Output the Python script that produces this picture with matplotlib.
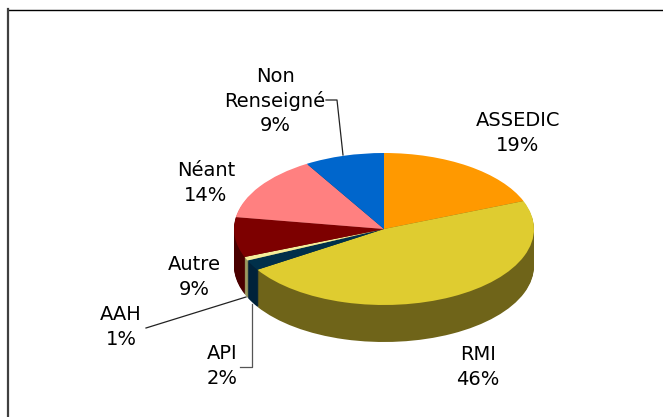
import matplotlib
matplotlib.use('Agg')
import matplotlib.pyplot as plt

labels = ['ASSEDIC', 'RMI', 'API', 'AAH', 'Autre', 'Néant', 'Non\nRenseigné']
# printed percentages, and slice sizes as measured on the picture
percents = [19, 46, 2, 1, 9, 14, 9]
values = [19.0, 47.0, 2.2, 0.8, 8.5, 13.9, 8.6]

top_colors = ['#ff9900', '#dfcc30', '#00304a', '#f5ee9a', '#7d0000', '#ff8080', '#0066cc']
side_colors = ['#7f4d00', '#6f6419', '#00223a', '#9c9a60', '#4a0000', '#804040', '#003366']

W, H = 663, 417
cx, cy, rx, ry = 384, 229, 150, 76
depth = 37

fig = plt.figure(figsize=(W / 100, H / 100), dpi=100)

# pie axes: one unit is the ellipse radius, so the pie gets squashed
ax_pie = fig.add_axes([0, 0, 1, 1])
for d in range(depth, 0, -1):
    ax_pie.pie(values, colors=side_colors, startangle=90, counterclock=False,
               center=(0, -d / ry), wedgeprops=dict(linewidth=0))
ax_pie.pie(values, colors=top_colors, startangle=90, counterclock=False,
           center=(0, 0), wedgeprops=dict(linewidth=0))
ax_pie.set_aspect('auto')
ax_pie.set_xlim(-cx / rx, (W - cx) / rx)
ax_pie.set_ylim((cy - H) / ry, cy / ry)
ax_pie.axis('off')

# overlay in pixels for the frame, labels and leader lines
ax = fig.add_axes([0, 0, 1, 1])
ax.set_xlim(0, W)
ax.set_ylim(H, 0)
ax.axis('off')
ax.patch.set_alpha(0)

ax.plot([8, W], [9.5, 9.5], color='black', lw=1)
ax.plot([8, 8], [9, H], color='#404040', lw=1.6)

label_pos = [(518, 133), (478, 367), (222, 366), (121, 327), (194, 277), (206, 183), (275, 101)]
for lab, val, (x, y) in zip(labels, percents, label_pos):
    ax.text(x, y, f'{lab}\n{val}%', ha='center', va='center', fontsize=14,
            linespacing=1.35, color='black')

ax.plot([326, 337, 343], [100, 100, 155], color='#222222', lw=0.9)
ax.plot([146, 246], [328, 297], color='#222222', lw=0.9)
ax.plot([252, 252, 240], [304, 367, 367], color='#555555', lw=0.9)

fig.savefig('out.png', dpi=100)
